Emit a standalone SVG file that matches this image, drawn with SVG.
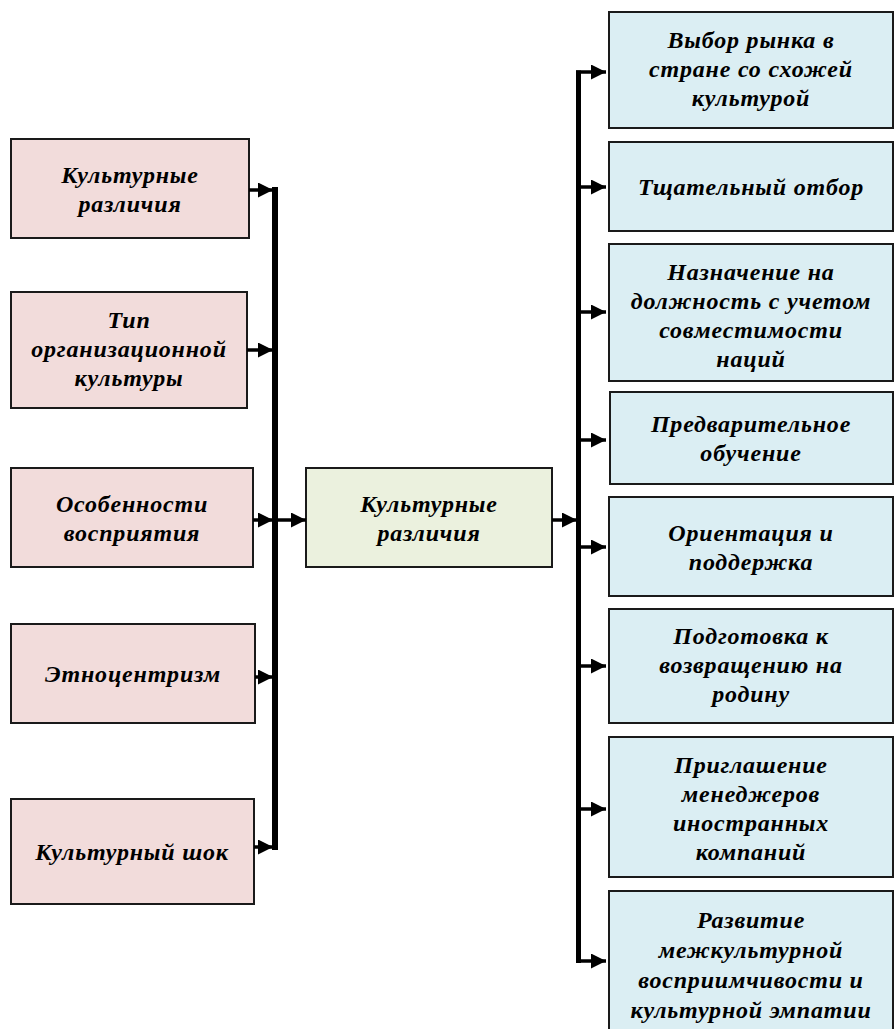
<svg xmlns="http://www.w3.org/2000/svg" width="895" height="1029" viewBox="0 0 895 1029">
<defs>
<marker id="ah" markerUnits="userSpaceOnUse" markerWidth="15" markerHeight="15" viewBox="0 0 15 15" refX="15" refY="7.5" orient="auto">
<path d="M0,0 L15,7.5 L0,15 z" fill="#000"/>
</marker>
</defs>
<style>
.l{fill:#f2dcdb;stroke:#1a1a1a;stroke-width:2}
.m{fill:#ebf1de;stroke:#1a1a1a;stroke-width:2}
.r{fill:#dbeef3;stroke:#1a1a1a;stroke-width:2}
text{font-family:"Liberation Serif","Times New Roman",serif;font-weight:bold;font-style:italic;font-size:24px;letter-spacing:0.8px;fill:#000;text-anchor:middle}
.c line{stroke:#000;stroke-width:3.5}
.c .bar{stroke-width:6}
</style>
<g id="l1"><rect class="l" x="11" y="139" width="238" height="99"/><text x="130" y="183">Культурные<tspan x="130" dy="29">различия</tspan></text></g>
<g id="l2"><rect class="l" x="11" y="292" width="236" height="116"/><text x="129" y="328">Тип<tspan x="129" dy="29">организационной</tspan><tspan x="129" dy="29">культуры</tspan></text></g>
<g id="l3"><rect class="l" x="11" y="468" width="242" height="99"/><text x="132" y="512">Особенности<tspan x="132" dy="29">восприятия</tspan></text></g>
<g id="l4"><rect class="l" x="11" y="624" width="244" height="99"/><text x="133" y="682">Этноцентризм</text></g>
<g id="l5"><rect class="l" x="11" y="799" width="243" height="105"/><text x="132" y="860">Культурный шок</text></g>
<g id="mid"><rect class="m" x="306" y="468" width="246" height="99"/><text x="429" y="512">Культурные<tspan x="429" dy="29">различия</tspan></text></g>
<g id="r1"><rect class="r" x="609" y="12" width="284" height="116"/><text x="751" y="48">Выбор рынка в<tspan x="751" dy="29">стране со схожей</tspan><tspan x="751" dy="29">культурой</tspan></text></g>
<g id="r2"><rect class="r" x="609" y="142" width="284" height="89"/><text x="751" y="195">Тщательный отбор</text></g>
<g id="r3"><rect class="r" x="609" y="244" width="284" height="137"/><text x="751" y="280">Назначение на<tspan x="751" dy="29">должность с учетом</tspan><tspan x="751" dy="29">совместимости</tspan><tspan x="751" dy="29">наций</tspan></text></g>
<g id="r4"><rect class="r" x="610" y="392" width="283" height="92"/><text x="751" y="432">Предварительное<tspan x="751" dy="29">обучение</tspan></text></g>
<g id="r5"><rect class="r" x="609" y="497" width="284" height="99"/><text x="751" y="541">Ориентация и<tspan x="751" dy="29">поддержка</tspan></text></g>
<g id="r6"><rect class="r" x="609" y="609" width="284" height="114"/><text x="751" y="644">Подготовка к<tspan x="751" dy="29">возвращению на</tspan><tspan x="751" dy="29">родину</tspan></text></g>
<g id="r7"><rect class="r" x="609" y="737" width="284" height="140"/><text x="751" y="773">Приглашение<tspan x="751" dy="29">менеджеров</tspan><tspan x="751" dy="29">иностранных</tspan><tspan x="751" dy="29">компаний</tspan></text></g>
<g id="r8"><rect class="r" x="609" y="891" width="284" height="150"/><text x="751" y="928">Развитие<tspan x="751" dy="30">межкультурной</tspan><tspan x="751" dy="30">восприимчивости и</tspan><tspan x="751" dy="30">культурной эмпатии</tspan></text></g>
<g id="connectors" class="c">
<line class="bar" x1="275" y1="187" x2="275" y2="850"/>
<line x1="249" y1="190" x2="273" y2="190" marker-end="url(#ah)"/>
<line x1="247" y1="350" x2="273" y2="350" marker-end="url(#ah)"/>
<line x1="253" y1="520" x2="273" y2="520" marker-end="url(#ah)"/>
<line x1="255" y1="677" x2="273" y2="677" marker-end="url(#ah)"/>
<line x1="254" y1="847" x2="273" y2="847" marker-end="url(#ah)"/>
<line x1="278" y1="520" x2="306" y2="520" marker-end="url(#ah)"/>
<line x1="552" y1="520" x2="577" y2="520" marker-end="url(#ah)"/>
<line x1="578.5" y1="70.5" x2="578.5" y2="963" style="stroke-width:5"/>
<line x1="576" y1="72" x2="606" y2="72" marker-end="url(#ah)"/>
<line x1="581" y1="187" x2="606" y2="187" marker-end="url(#ah)"/>
<line x1="581" y1="312" x2="606" y2="312" marker-end="url(#ah)"/>
<line x1="581" y1="440" x2="606" y2="440" marker-end="url(#ah)"/>
<line x1="581" y1="547" x2="606" y2="547" marker-end="url(#ah)"/>
<line x1="581" y1="666" x2="606" y2="666" marker-end="url(#ah)"/>
<line x1="581" y1="809" x2="606" y2="809" marker-end="url(#ah)"/>
<line x1="576" y1="961" x2="606" y2="961" marker-end="url(#ah)"/>
</g>
</svg>
